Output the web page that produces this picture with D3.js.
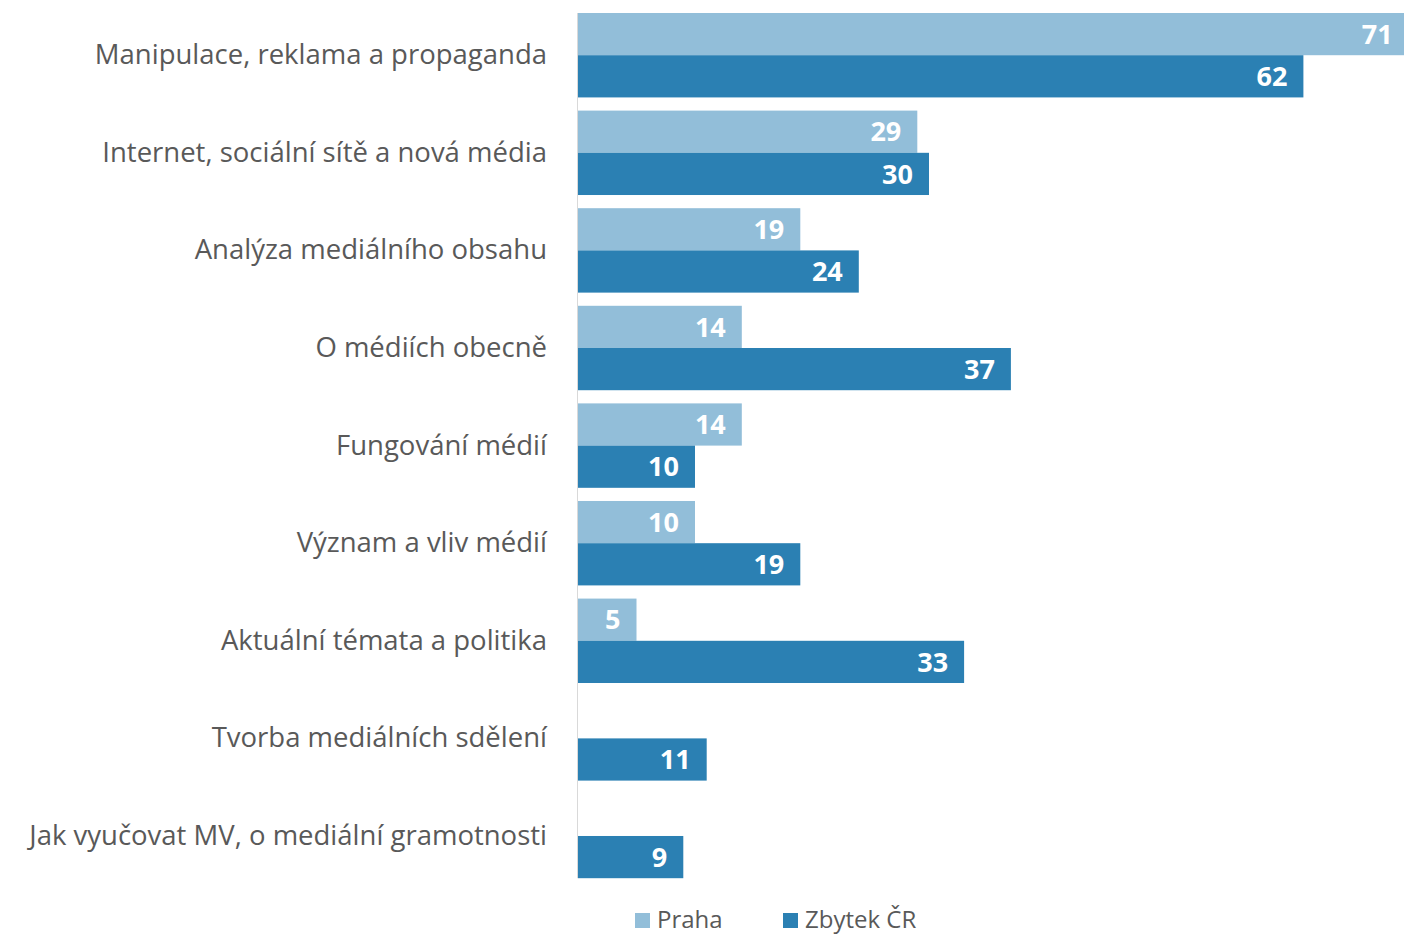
<!DOCTYPE html>
<html lang="cs">
<head>
<meta charset="utf-8">
<style>
    body { margin: 0; background: #fff; }
    svg { display: block; }
    text { font-family: "Open Sans", sans-serif; }
</style>
</head>
<body>
<svg width="1404" height="935"></svg>
<script src="https://cdn.jsdelivr.net/npm/d3@7"></script>
<script>
// Data
const categories = [
    "Manipulace, reklama a propaganda",
    "Internet, sociální sítě a nová média",
    "Analýza mediálního obsahu",
    "O médiích obecně",
    "Fungování médií",
    "Význam a vliv médií",
    "Aktuální témata a politika",
    "Tvorba mediálních sdělení",
    "Jak vyučovat MV, o mediální gramotnosti"
];
const series = ["Praha", "Zbytek ČR"];
const praha = [71, 29, 19, 14, 14, 10, 5, null, null];
const zbytek = [62, 30, 24, 37, 10, 19, 33, 11, 9];
const colors = ["#92BED9", "#2B80B3"];

const svg = d3.select("svg");
const W = 1404;

const rows = [];
categories.forEach((c, i) => {
    rows.push({ cat: c, s: series[0], v: praha[i] });
    rows.push({ cat: c, s: series[1], v: zbytek[i] });
});

const x = d3.scaleLinear().domain([0, 71]).range([578, 578 + 71 * 11.7]);
const y = d3.scaleBand().domain(categories).range([13, 878.2]).paddingInner(0.135).paddingOuter(0);
const y1 = d3.scaleBand().domain(series).range([0, y.bandwidth()]);
const color = d3.scaleOrdinal().domain(series).range(colors);

// Bars
const bars = svg.append("g");
bars.selectAll("rect")
    .data(rows.filter(d => d.v != null))
    .join("rect")
    .attr("x", x(0))
    .attr("y", d => y(d.cat) + y1(d.s))
    .attr("width", d => x(d.v) - x(0))
    .attr("height", y1.bandwidth())
    .attr("fill", d => color(d.s));

// Axis line
svg.append("line")
    .attr("x1", x(0) - 0.5).attr("x2", x(0) - 0.5)
    .attr("y1", y.range()[0]).attr("y2", y.range()[1])
    .attr("stroke", "#d9d9d9").attr("stroke-width", 1);

// Value labels
bars.selectAll("text")
    .data(rows.filter(d => d.v != null))
    .join("text")
    .attr("x", d => Math.min(x(d.v) - 16, W - 7))
    .attr("y", d => y(d.cat) + y1(d.s) + y1.bandwidth() / 2)
    .attr("dy", "0.36em")
    .attr("text-anchor", "end")
    .attr("fill", "#fff")
    .attr("font-weight", "bold")
    .attr("font-size", 27)
    .text(d => d.v);

// Category labels
svg.append("g").selectAll("text")
    .data(categories)
    .join("text")
    .attr("x", 547)
    .attr("y", d => y(d) + y.bandwidth() / 2 - 1)
    .attr("dy", "0.36em")
    .attr("text-anchor", "end")
    .attr("fill", "#595959")
    .attr("font-size", 27.5)
    .text(d => d);

// Legend
const legendX = [635, 783];
const legend = svg.append("g").selectAll("g")
    .data(series)
    .join("g")
    .attr("transform", (d, i) => `translate(${legendX[i]}, 913)`);
legend.append("rect")
    .attr("width", 15).attr("height", 15)
    .attr("fill", d => color(d));
legend.append("text")
    .attr("x", 22).attr("y", 6)
    .attr("dy", "0.36em")
    .attr("fill", "#595959")
    .attr("font-size", 24)
    .text(d => d);
</script>
</body>
</html>
